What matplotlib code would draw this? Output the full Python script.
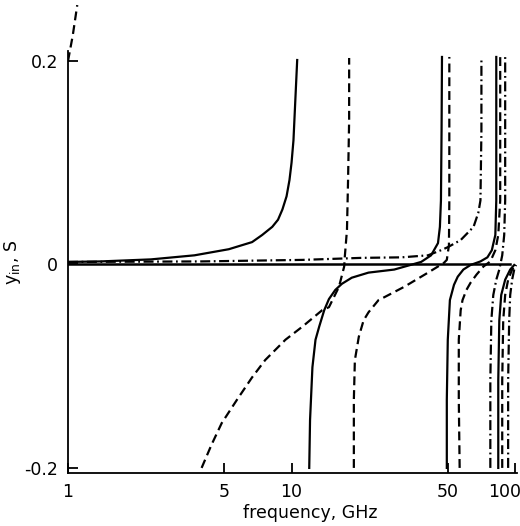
import matplotlib
matplotlib.use("Agg")
import matplotlib.pyplot as plt
import matplotlib.transforms as mtransforms
from matplotlib.ticker import NullLocator

# --- Dades llegides del gràfic (freqüència en GHz, admitància en S) ---
# corba contínua, branques successives
s1_f = [1.0, 1.40, 2.35, 3.68, 5.24, 6.66, 7.39, 8.20, 8.70, 9.10, 9.50, 9.79, 10.0, 10.2, 10.4, 10.6]
s1_y = [0.0025, 0.003, 0.005, 0.009, 0.015, 0.022, 0.029, 0.037, 0.044, 0.054, 0.067, 0.083, 0.100, 0.122, 0.162, 0.201]
s2_f = [12.0, 12.1, 12.4, 12.8, 13.3, 14.0, 14.7, 15.7, 16.8, 18.6, 22.1, 28.8, 38.0, 42.1, 45.2, 46.1, 46.6, 46.9, 47.1]
s2_y = [-0.2, -0.153, -0.101, -0.074, -0.061, -0.045, -0.034, -0.025, -0.019, -0.013, -0.008, -0.005, 0.0025, 0.009, 0.021, 0.037, 0.063, 0.132, 0.204]
s3_f = [49.5, 49.5, 50.0, 51.1, 53.3, 55.4, 58.7, 63.2, 70.0, 75.2, 78.7, 81.6, 82.4, 82.4, 82.4]
s3_y = [-0.2, -0.133, -0.074, -0.035, -0.020, -0.012, -0.005, -0.0005, 0.003, 0.007, 0.014, 0.029, 0.063, 0.132, 0.204]
s4_f = [84.1, 84.1, 85.0, 86.7, 90.3, 95.1, 99.1]
s4_y = [-0.2, -0.114, -0.055, -0.030, -0.015, -0.005, -0.0005]

# corba de traços
d0_f = [1.0, 1.05, 1.1]
d0_y = [0.20, 0.225, 0.255]
d1_f = [3.96, 4.39, 4.87, 5.70, 6.66, 7.62, 9.39, 11.2, 13.7, 14.7, 16.3, 17.2, 17.3, 17.7, 17.9, 18.1, 18.1]
d1_y = [-0.2, -0.177, -0.156, -0.133, -0.111, -0.094, -0.074, -0.061, -0.045, -0.042, -0.022, -0.002, 0.007, 0.034, 0.083, 0.142, 0.203]
d2_f = [19.0, 19.0, 19.2, 20.0, 21.0, 22.1, 24.5, 26.1, 31.9, 40.8, 48.0, 49.5, 50.6, 50.8, 50.8, 50.8]
d2_y = [-0.2, -0.133, -0.094, -0.071, -0.055, -0.047, -0.035, -0.032, -0.022, -0.008, 0.0015, 0.0045, 0.019, 0.063, 0.132, 0.204]
d3_f = [56.5, 56.0, 56.0, 57.1, 58.2, 60.6, 63.2, 67.2, 72.2, 77.5, 81.6, 84.1, 85.8, 85.8, 85.8]
d3_y = [-0.2, -0.133, -0.074, -0.045, -0.035, -0.025, -0.018, -0.010, -0.002, 0.003, 0.014, 0.029, 0.063, 0.132, 0.204]
d4_f = [87.6, 87.6, 88.5, 90.3, 93.1, 97.0, 100.0]
d4_y = [-0.2, -0.114, -0.055, -0.030, -0.015, -0.005, -0.0005]

# corba de traç-punt
c1_f = [1.0, 3.96, 11.2, 20.6, 31.0, 40.8, 46.6, 50.0, 57.1, 65.2, 68.5, 70.0, 70.7, 70.7]
c1_y = [0.0025, 0.003, 0.0045, 0.0065, 0.007, 0.009, 0.014, 0.017, 0.024, 0.037, 0.051, 0.063, 0.132, 0.204]
c2_f = [77.5, 77.5, 78.3, 79.9, 82.4, 85.0, 87.6, 89.4, 90.3, 90.3]
c2_y = [-0.2, -0.114, -0.055, -0.030, -0.015, -0.005, 0.009, 0.029, 0.063, 0.204]
c3_f = [93.1, 93.1, 94.1, 95.1, 97.0, 99.1, 101.0]
c3_y = [-0.2, -0.114, -0.055, -0.030, -0.015, -0.005, -0.0005]

x_ticks = [1, 5, 10, 50, 100]
x_labels = ['1', '5', '10', '50', '100']
y_ticks = [-0.2, 0, 0.2]
y_labels = ['-0.2', '0', '0.2']

# --- Gràfic ---
plt.rcParams['font.family'] = ['DejaVu Sans']
fig = plt.figure(figsize=(5.2, 5.26), dpi=100)
ax = fig.add_axes([68/520, 53/526, 449/520, 473/526])

lw = 1.6
solid = '-'
dashed = (0, (4, 2.2))
chain = (0, (4.5, 1.6, 0.8, 1.6))

for f, y in [(s1_f, s1_y), (s2_f, s2_y), (s3_f, s3_y), (s4_f, s4_y)]:
    ax.plot(f, y, color='black', lw=lw, linestyle=solid)
for f, y in [(d0_f, d0_y), (d1_f, d1_y), (d2_f, d2_y), (d3_f, d3_y), (d4_f, d4_y)]:
    ax.plot(f, y, color='black', lw=lw, linestyle=dashed)
for f, y in [(c1_f, c1_y), (c2_f, c2_y), (c3_f, c3_y)]:
    ax.plot(f, y, color='black', lw=lw, linestyle=chain)

# línia de zero
ax.axhline(0, xmin=0, xmax=0.985, color='black', lw=1.8)

ax.set_xscale('log')
ax.set_xlim(1, 102)
ax.set_ylim(-0.205, 0.26)
ax.xaxis.set_minor_locator(NullLocator())
ax.set_xticks(x_ticks)
ax.set_xticklabels(x_labels)
ax.set_yticks(y_ticks)
ax.set_yticklabels(y_labels)
ax.tick_params(direction='in', length=7, width=1.3, labelsize=12.5, pad=7)

# l'etiqueta "100" es desplaça perquè no quedi tallada
lab100 = ax.get_xticklabels()[-1]
lab100.set_horizontalalignment('right')
lab100.set_transform(lab100.get_transform() +
                     mtransforms.ScaledTranslation(6/100, 0, fig.dpi_scale_trans))

for s in ['top', 'right']:
    ax.spines[s].set_visible(False)
ax.spines['left'].set_bounds(-0.205, 0.21)
ax.spines['left'].set_linewidth(1.3)
ax.spines['bottom'].set_linewidth(1.3)

ax.set_xlabel('frequency, GHz', fontsize=12.5)
ax.xaxis.set_label_coords(0.539, -0.066)
ax.set_ylabel(r'$\mathregular{y_{in}}$, S', fontsize=12.5)
ax.yaxis.set_label_coords(-0.1, 0.446)

fig.savefig('out.png', dpi=100)
